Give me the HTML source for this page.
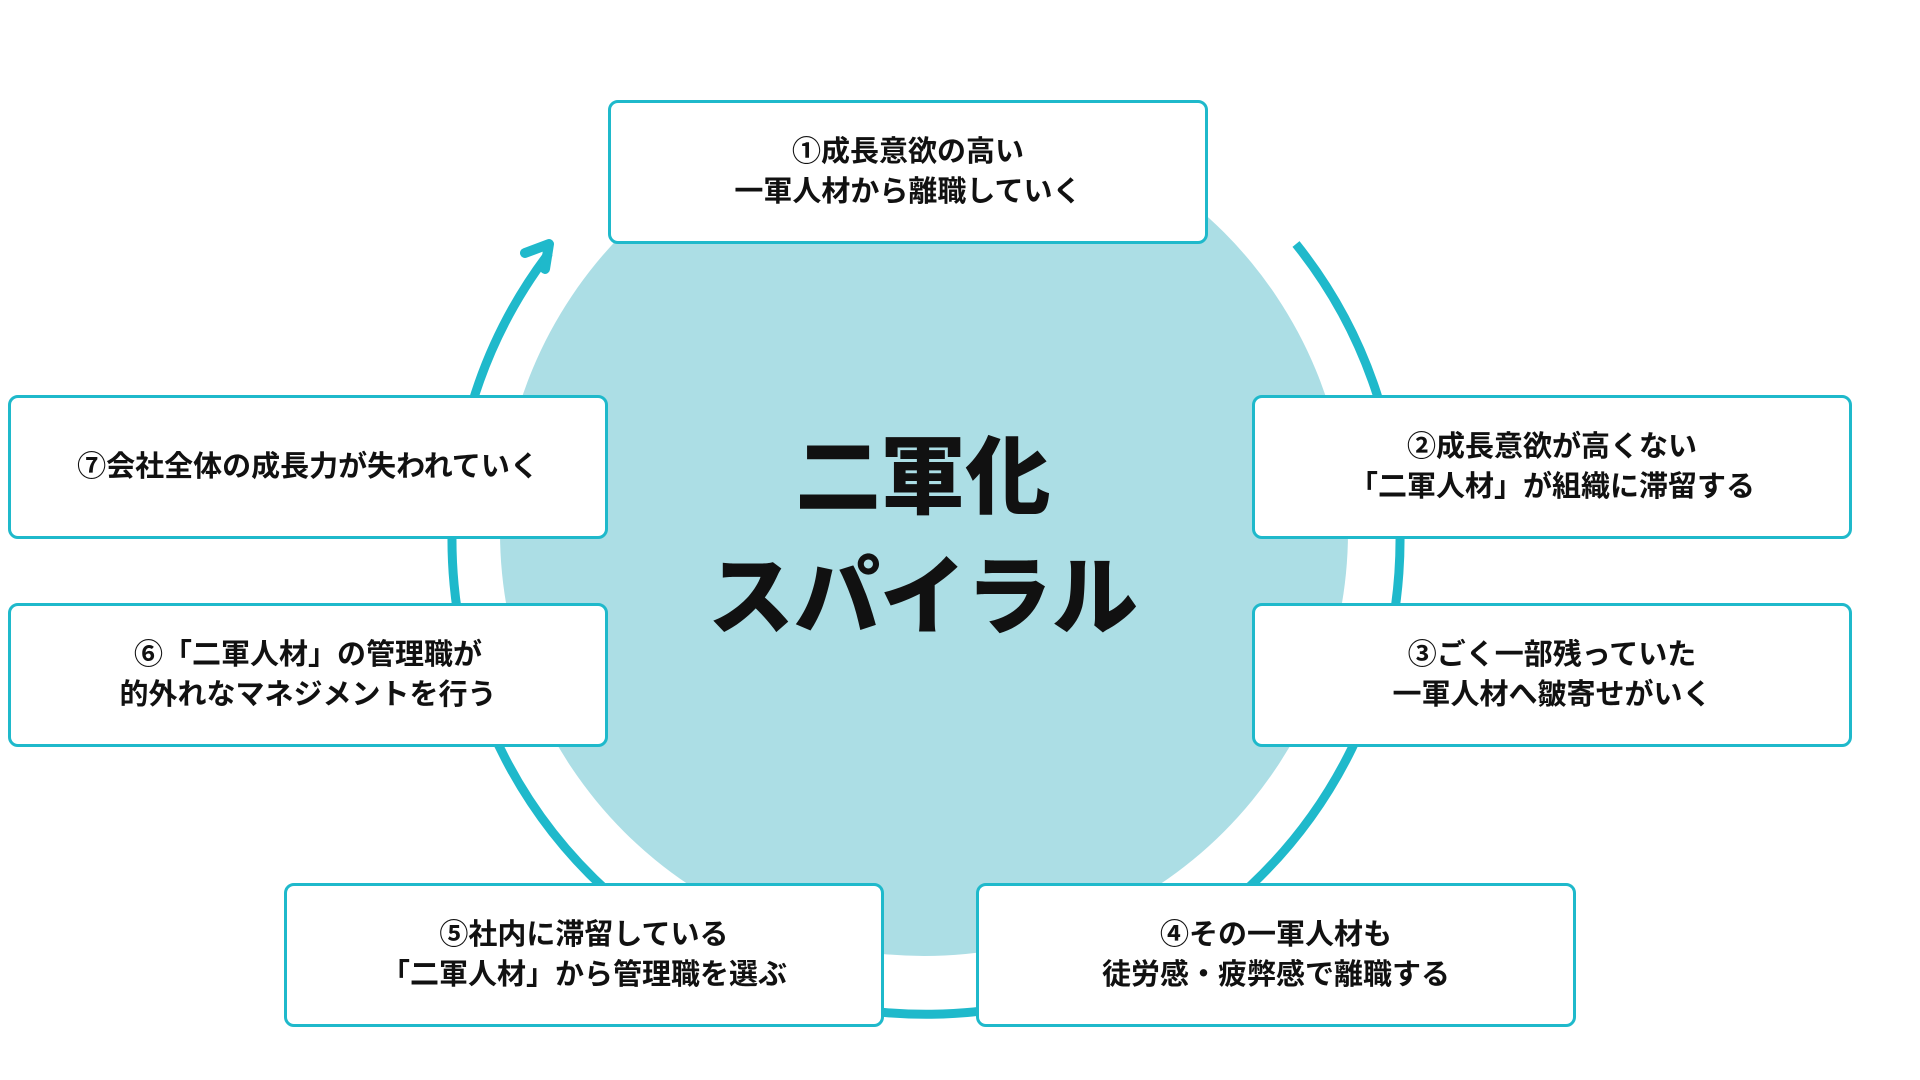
<!DOCTYPE html>
<html><head><meta charset="utf-8"><style>
html,body{margin:0;padding:0;background:#fff;}
body{width:1920px;height:1080px;position:relative;overflow:hidden;font-family:"Liberation Sans","Noto Sans CJK JP",sans-serif;}
.box{position:absolute;width:600px;height:144px;border:3px solid #1fb9cb;border-radius:10px;background:#fff;box-sizing:border-box;display:flex;align-items:center;justify-content:center;text-align:center;font-weight:bold;font-size:29px;line-height:40px;color:#111;}
.title{position:absolute;left:623px;width:600px;text-align:center;font-weight:900;color:#111;font-family:"Noto Sans CJK JP",sans-serif;line-height:1.2;}
</style></head><body>
<svg width="1920" height="1080" style="position:absolute;left:0;top:0">
<circle cx="924" cy="532" r="424" fill="#acdee5"/>
<path d="M1296 244 A474 474 0 1 1 549 253" fill="none" stroke="#1fb9cb" stroke-width="9"/>
<polyline points="525,253 549,244 545,269" fill="none" stroke="#1fb9cb" stroke-width="10" stroke-linecap="round" stroke-linejoin="round"/>
</svg>
<div class="box" style="left:608px;top:100px">①成長意欲の高い<br>一軍人材から離職していく</div>
<div class="box" style="left:1252px;top:395px">②成長意欲が高くない<br>「二軍人材」が組織に滞留する</div>
<div class="box" style="left:1252px;top:603px">③ごく一部残っていた<br>一軍人材へ皺寄せがいく</div>
<div class="box" style="left:976px;top:883px">④その一軍人材も<br>徒労感・疲弊感で離職する</div>
<div class="box" style="left:284px;top:883px">⑤社内に滞留している<br>「二軍人材」から管理職を選ぶ</div>
<div class="box" style="left:8px;top:603px">⑥「二軍人材」の管理職が<br>的外れなマネジメントを行う</div>
<div class="box" style="left:8px;top:395px">⑦会社全体の成長力が失われていく</div>
<div class="title" style="top:420px;font-size:85px">二軍化</div>
<div class="title" style="top:538px;font-size:86px">スパイラル</div>
</body></html>
